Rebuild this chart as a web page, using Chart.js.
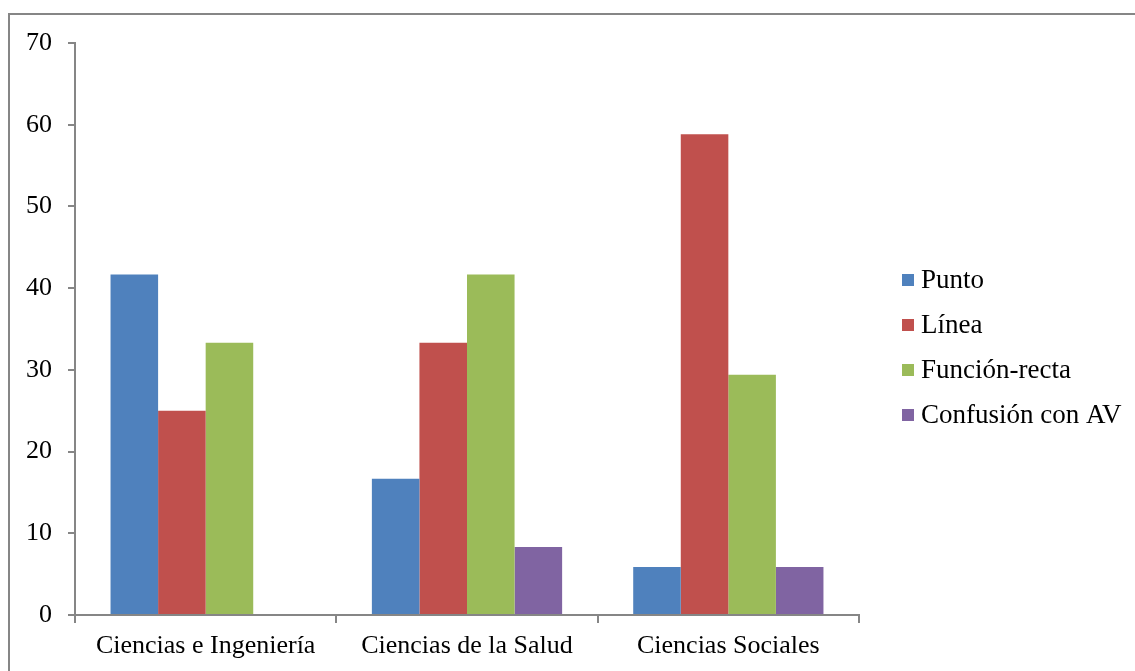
<!DOCTYPE html>
<html lang="es">
<head>
<meta charset="utf-8">
<title>Concepciones por área</title>
<script src="https://cdn.jsdelivr.net/npm/chart.js@4.4.1/dist/chart.umd.min.js"></script>
<style>
  html, body { margin: 0; padding: 0; background: #ffffff; }
  #wrap { position: relative; width: 1135px; height: 671px; }
</style>
</head>
<body>
<div id="wrap"><canvas id="chart" width="1135" height="671"></canvas></div>
<script>
// Áreas de conocimiento
const categories = ['Ciencias e Ingeniería', 'Ciencias de la Salud', 'Ciencias Sociales'];

// Porcentajes por tipo de concepción
const punto       = [41.67, 16.67, 5.88];
const linea       = [25.00, 33.33, 58.82];
const funcionRecta = [33.33, 41.67, 29.41];
const confusionAV = [0, 8.33, 5.88];

const seriesNames = ['Punto', 'Línea', 'Función-recta', 'Confusión con AV'];
const seriesColors = ['#4F81BD', '#C0504D', '#9BBB59', '#8064A2'];

// Eje Y
const yMin = 0, yMax = 70, yStep = 10;

const FONT = "'Liberation Serif', 'Times New Roman', serif";
const AXIS_GRAY = '#868686';

// Marco exterior (solo lados superior e izquierdo quedan dentro del lienzo)
const framePlugin = {
  id: 'frame',
  beforeDraw(chart) {
    const ctx = chart.ctx;
    ctx.save();
    ctx.strokeStyle = AXIS_GRAY;
    ctx.lineWidth = 2;
    ctx.beginPath();
    ctx.moveTo(9, chart.height + 5);
    ctx.lineTo(9, 14);
    ctx.lineTo(chart.width + 5, 14);
    ctx.stroke();
    ctx.restore();
  }
};

// Leyenda a la derecha, generada desde los datasets
const sideLegend = {
  id: 'sideLegend',
  afterDraw(chart) {
    const ctx = chart.ctx;
    const x0 = 902, yStart = 280, gap = 45, box = 12;
    ctx.save();
    ctx.font = '27px ' + FONT;
    ctx.textBaseline = 'middle';
    ctx.textAlign = 'left';
    chart.data.datasets.forEach((ds, i) => {
      const y = yStart + i * gap;
      ctx.fillStyle = ds.backgroundColor;
      ctx.fillRect(x0, y - box / 2, box, box);
      ctx.fillStyle = '#000000';
      ctx.fillText(ds.label, x0 + box + 7, y + 1);
    });
    ctx.restore();
  }
};

const values = [punto, linea, funcionRecta, confusionAV];

new Chart(document.getElementById('chart'), {
  type: 'bar',
  data: {
    labels: categories,
    datasets: values.map((v, i) => ({
      label: seriesNames[i],
      data: v,
      backgroundColor: seriesColors[i],
      borderWidth: 0,
      categoryPercentage: 0.728,
      barPercentage: 1.0
    }))
  },
  options: {
    responsive: false,
    animation: false,
    layout: { padding: { left: 0, top: 43, right: 1135 - 859, bottom: 0 } },
    plugins: {
      legend: { display: false },
      tooltip: { enabled: false }
    },
    scales: {
      x: {
        grid: {
          offset: true,
          drawOnChartArea: false,
          drawTicks: true,
          tickLength: 8,
          color: AXIS_GRAY,
          lineWidth: 2
        },
        border: { display: true, color: AXIS_GRAY, width: 2 },
        ticks: {
          color: '#000000',
          font: { family: FONT, size: 26 },
          padding: 8,
          maxRotation: 0,
          autoSkip: false
        },
        afterFit(scale) { scale.height = 671 - 615; }
      },
      y: {
        min: yMin,
        max: yMax,
        grid: {
          drawOnChartArea: false,
          drawTicks: true,
          tickLength: 7,
          color: AXIS_GRAY,
          lineWidth: 2
        },
        border: { display: true, color: AXIS_GRAY, width: 2 },
        ticks: {
          stepSize: yStep,
          color: '#000000',
          font: { family: FONT, size: 26 },
          padding: 16
        },
        afterFit(scale) { scale.width = 75; }
      }
    }
  },
  plugins: [framePlugin, sideLegend]
});
</script>
</body>
</html>
